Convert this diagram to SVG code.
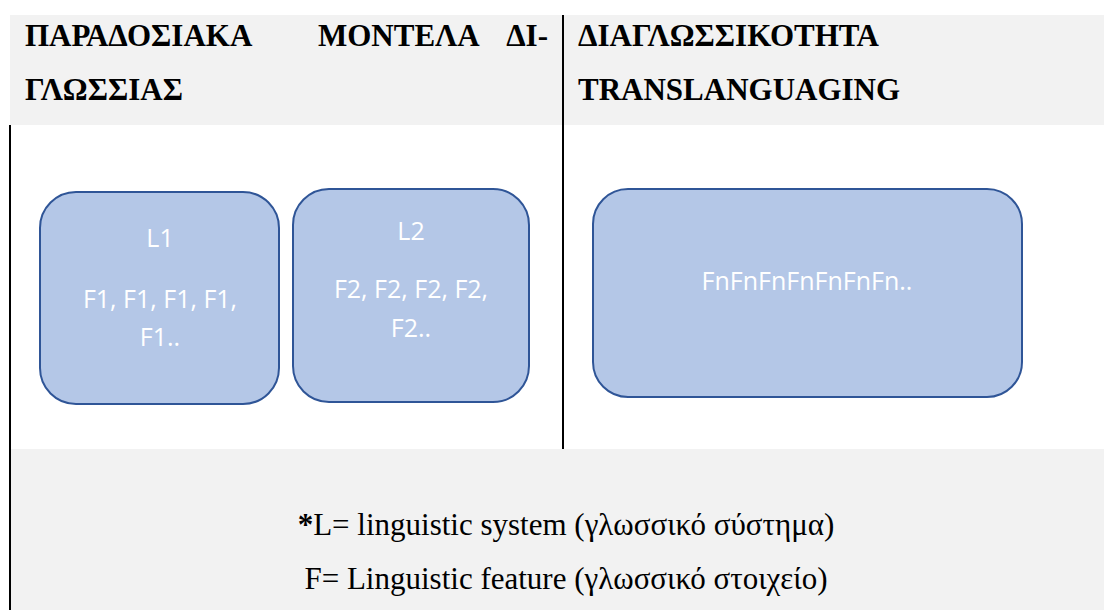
<svg xmlns="http://www.w3.org/2000/svg" width="1104" height="610" viewBox="0 0 1104 610">
<style>
.band{fill:#F2F2F2}
.rule{stroke:#000;stroke-width:2;fill:none}
.hdr{font-family:"Liberation Serif","Times New Roman",serif;font-weight:bold;font-size:31px;fill:#000}
.box{fill:#B4C7E7;stroke:#2F5597;stroke-width:2}
.lbl{font-family:"Open Sans","Noto Sans",sans-serif;font-size:25px;fill:#FFFFFF;text-anchor:middle}
.note{font-family:"Liberation Serif","Times New Roman",serif;font-size:31px;fill:#000;text-anchor:middle}
</style>
<g id="layout">
<rect class="band" x="10" y="15" width="1094" height="110"/>
<rect class="band" x="11" y="449" width="1093" height="161"/>
<line class="rule" x1="10" y1="125" x2="10" y2="610"/>
<line class="rule" x1="563" y1="15" x2="563" y2="449"/>
</g>
<g id="header-left">
<text class="hdr" y="46"><tspan x="25">ΠΑΡΑΔΟΣΙΑΚΑ</tspan><tspan x="318">ΜΟΝΤΕΛΑ</tspan><tspan x="548" text-anchor="end">ΔΙ-</tspan></text>
<text class="hdr" x="25" y="100">ΓΛΩΣΣΙΑΣ</text>
</g>
<g id="header-right">
<text class="hdr" x="578" y="46">ΔΙΑΓΛΩΣΣΙΚΟΤΗΤΑ</text>
<text class="hdr" x="578" y="100">TRANSLANGUAGING</text>
</g>
<g id="node-L1">
<rect class="box" x="40" y="192" width="239" height="212" rx="36" ry="36"/>
<text class="lbl" x="160" y="247">L1</text>
<text class="lbl" x="160" y="308">F1, F1, F1, F1,</text>
<text class="lbl" x="160" y="346">F1..</text>
</g>
<g id="node-L2">
<rect class="box" x="293" y="189" width="236" height="213" rx="36" ry="36"/>
<text class="lbl" x="411" y="240">L2</text>
<text class="lbl" x="411" y="298">F2, F2, F2, F2,</text>
<text class="lbl" x="411" y="337">F2..</text>
</g>
<g id="node-Fn">
<rect class="box" x="593" y="189" width="429" height="208" rx="35" ry="35"/>
<text class="lbl" x="807" y="290">FnFnFnFnFnFnFn..</text>
</g>
<g id="connectors"></g>
<g id="legend">
<text class="note" x="566" y="535"><tspan font-weight="bold">*</tspan>L= linguistic system (γλωσσικό σύστημα)</text>
<text class="note" x="566" y="589">F= Linguistic feature (γλωσσικό στοιχείο)</text>
</g>
</svg>
